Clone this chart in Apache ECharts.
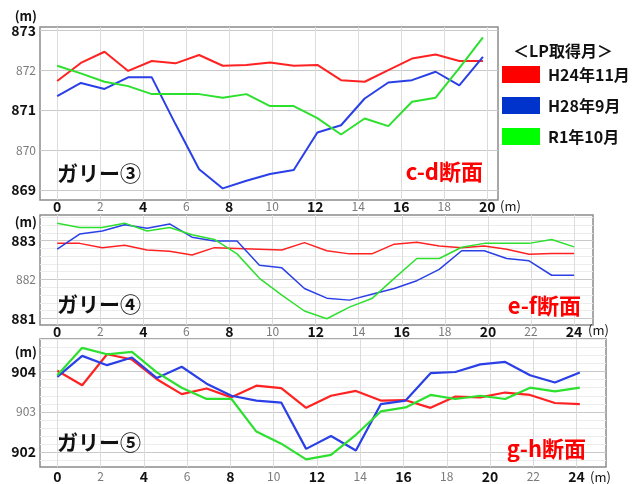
<!DOCTYPE html>
<html>
<head>
<meta charset="utf-8">
<script src="https://cdn.jsdelivr.net/npm/echarts@6/dist/echarts.min.js"></script>
<style>
  html, body { margin: 0; padding: 0; background: #fff; }
  #chart { width: 641px; height: 484px; }
</style>
</head>
<body>
<div id="chart"></div>
<script>
// Survey series names (LP acquisition month)
const seriesNames = ['H24年11月', 'H28年9月', 'R1年10月'];

// Gully ③, section c-d: station distance (m) and elevation (m)
const dist3 = [0, 1.1, 2.2, 3.3, 4.4, 5.5, 6.6, 7.7, 8.8, 9.9, 11, 12.1, 13.2, 14.3, 15.4, 16.5, 17.6, 18.7, 19.8];
const g3H24 = [871.73, 872.18, 872.46, 871.98, 872.23, 872.17, 872.38, 872.11, 872.13, 872.19, 872.11, 872.13, 871.75, 871.71, 872.0, 872.29, 872.39, 872.23, 872.23];
const g3H28 = [871.35, 871.68, 871.53, 871.82, 871.82, 870.65, 869.52, 869.04, 869.23, 869.4, 869.5, 870.44, 870.62, 871.29, 871.69, 871.75, 871.96, 871.62, 872.33];
const g3R1  = [872.11, 871.92, 871.71, 871.6, 871.4, 871.4, 871.4, 871.31, 871.4, 871.1, 871.1, 870.8, 870.39, 870.79, 870.6, 871.21, 871.31, 872.05, 872.82];

// Gully ④, section e-f
const dist4 = [0, 1.04, 2.09, 3.13, 4.17, 5.22, 6.26, 7.3, 8.35, 9.39, 10.43, 11.48, 12.52, 13.57, 14.61, 15.65, 16.7, 17.74, 18.78, 19.83, 20.87, 21.91, 22.96, 24];
const g4H24 = [882.93, 882.93, 882.82, 882.88, 882.76, 882.73, 882.63, 882.82, 882.8, 882.78, 882.76, 882.95, 882.74, 882.66, 882.66, 882.91, 882.96, 882.86, 882.82, 882.86, 882.78, 882.65, 882.67, 882.67];
const g4H28 = [882.78, 883.17, 883.25, 883.41, 883.32, 883.43, 883.09, 882.99, 882.99, 882.37, 882.3, 881.77, 881.52, 881.47, 881.62, 881.77, 881.97, 882.26, 882.74, 882.74, 882.54, 882.48, 882.11, 882.11];
const g4R1  = [883.45, 883.34, 883.34, 883.45, 883.25, 883.34, 883.15, 883.03, 882.66, 882.03, 881.6, 881.19, 880.99, 881.29, 881.51, 882.03, 882.54, 882.54, 882.83, 882.93, 882.93, 882.93, 883.03, 882.84];

// Gully ⑤, section g-h
const dist5 = [0, 1.15, 2.3, 3.45, 4.6, 5.75, 6.9, 8.05, 9.2, 10.35, 11.5, 12.65, 13.8, 14.95, 16.1, 17.25, 18.4, 19.55, 20.7, 21.85, 23, 24.15];
const g5H24 = [904.02, 903.66, 904.43, 904.3, 903.81, 903.44, 903.58, 903.36, 903.65, 903.59, 903.1, 903.4, 903.52, 903.28, 903.29, 903.1, 903.38, 903.36, 903.48, 903.42, 903.22, 903.19];
const g5H28 = [903.87, 904.39, 904.16, 904.35, 903.84, 904.12, 903.7, 903.4, 903.28, 903.23, 902.08, 902.4, 902.04, 903.19, 903.28, 903.96, 903.99, 904.18, 904.24, 903.91, 903.73, 903.98];
const g5R1  = [903.91, 904.59, 904.43, 904.49, 903.98, 903.6, 903.32, 903.32, 902.51, 902.21, 901.82, 901.93, 902.43, 903.01, 903.11, 903.42, 903.32, 903.4, 903.32, 903.6, 903.51, 903.6];

// Tick labels
const xTicks20 = [0, 2, 4, 6, 8, 10, 12, 14, 16, 18, 20];
const xTicks24 = [0, 2, 4, 6, 8, 10, 12, 14, 16, 18, 20, 22, 24];
const xBold = [0, 4, 8, 12, 16, 20, 24];
const yTicks3 = [869, 870, 871, 872, 873];
const yBold3 = [869, 871, 873];
const yTicks4 = [881, 882, 883];
const yBold4 = [881, 883];
const yTicks5 = [902, 903, 904];
const yBold5 = [902, 904];

const FONT = '"Noto Sans CJK JP", "Noto Sans", sans-serif';
const lineColors = ['#ff2222', '#2a40e6', '#2ee02e'];
const legendColors = ['#ff0000', '#0033cc', '#00ff00'];

function pair(xs, ys) { return xs.map((x, i) => [x, ys[i]]); }

// minor grid positions every 0.2 m between lo and hi
function steps(lo, hi) {
  const out = [];
  for (let v = Math.round(lo * 5); v <= Math.round(hi * 5); v++) out.push(+(v / 5).toFixed(1));
  return out;
}

function labelFmt(boldSet) {
  return function (v) {
    return boldSet.indexOf(v) >= 0 ? '{b|' + v + '}' : '{g|' + v + '}';
  };
}
const rich = {
  b: { fontSize: 14, fontWeight: 'bold', color: '#111', fontFamily: FONT },
  g: { fontSize: 12, color: '#7a7a7a', fontFamily: FONT }
};

function xAxis(idx, max, ticks, margin) {
  return {
    type: 'value', gridIndex: idx, min: -0.8, max: max,
    axisLine: { show: false },
    axisTick: { show: false, customValues: ticks },
    axisLabel: { customValues: ticks, formatter: labelFmt(xBold), rich: rich, margin: margin },
    splitLine: { show: true, lineStyle: { color: '#dcdcdc', width: 1 } }
  };
}
function yAxis(idx, min, max, labels, boldSet, gridVals, gridColors) {
  return {
    type: 'value', gridIndex: idx, min: min, max: max,
    axisLine: { show: false },
    axisTick: { show: false, customValues: gridVals },
    axisLabel: { customValues: labels, formatter: labelFmt(boldSet), rich: rich, margin: 4 },
    splitLine: { show: true, lineStyle: { color: gridColors, width: 1 } }
  };
}

function lineSeries(name, idx, xs, ys, c, w) {
  return {
    name: name, type: 'line', xAxisIndex: idx, yAxisIndex: idx,
    data: pair(xs, ys), symbol: 'none', smooth: false,
    lineStyle: { color: lineColors[c], width: w },
    itemStyle: { color: legendColors[c] },
    z: 3 + (2 - c) * 0
  };
}

const MAJ = '#c9c9c9', MIN = '#ececec';

const option = {
  animation: false,
  backgroundColor: '#ffffff',
  grid: [
    { left: 40, top: 27, width: 458, height: 173, show: true, borderColor: '#8c8c8c', borderWidth: 1.5, backgroundColor: '#fff' },
    { left: 40, top: 215, width: 553, height: 110, show: true, borderColor: '#8c8c8c', borderWidth: 1.5, backgroundColor: '#fff' },
    { left: 40, top: 339, width: 566, height: 129, show: true, borderColor: '#8c8c8c', borderWidth: 1.5, backgroundColor: '#fff' }
  ],
  xAxis: [
    xAxis(0, 20.5, xTicks20, 0),
    xAxis(1, 24.88, xTicks24, 0),
    xAxis(2, 25.36, xTicks24, 3)
  ],
  yAxis: [
    yAxis(0, 868.75, 873.08, yTicks3, yBold3, yTicks3, [MAJ]),
    yAxis(1, 880.83, 883.66, yTicks4, yBold4, steps(881, 883.6), [MAJ, MIN, MIN, MIN, MIN]),
    yAxis(2, 901.63, 904.81, yTicks5, yBold5, steps(901.8, 904.8), [MIN, MAJ, MIN, MIN, MIN])
  ],
  legend: {
    orient: 'vertical', left: 502, top: 66,
    itemWidth: 38, itemHeight: 17, itemGap: 14, padding: 0,
    selectedMode: false,
    textStyle: { fontSize: 16, fontWeight: 'bold', color: '#111', fontFamily: FONT, padding: [0, 0, 0, 3] },
    data: seriesNames.map((n, i) => ({ name: n, icon: 'rect', itemStyle: { color: legendColors[i], borderWidth: 0 } }))
  },
  series: [
    lineSeries(seriesNames[0], 0, dist3, g3H24, 0, 2),
    lineSeries(seriesNames[1], 0, dist3, g3H28, 1, 2),
    lineSeries(seriesNames[2], 0, dist3, g3R1, 2, 2),
    lineSeries(seriesNames[0], 1, dist4, g4H24, 0, 1.5),
    lineSeries(seriesNames[1], 1, dist4, g4H28, 1, 1.5),
    lineSeries(seriesNames[2], 1, dist4, g4R1, 2, 1.5),
    lineSeries(seriesNames[0], 2, dist5, g5H24, 0, 2.2),
    lineSeries(seriesNames[1], 2, dist5, g5H28, 1, 2.2),
    lineSeries(seriesNames[2], 2, dist5, g5R1, 2, 2.2)
  ],
  graphic: [
    { type: 'text', left: 513, top: 43, style: { text: '＜LP取得月＞', fontSize: 16, fontWeight: 'bold', fill: '#111', fontFamily: FONT } },
    // unit labels
    { type: 'text', x: 37, y: 16, style: { text: '(m)', fontSize: 13, fontWeight: 'bold', fill: '#111', fontFamily: FONT, align: 'right', verticalAlign: 'middle' } },
    { type: 'text', x: 37, y: 222, style: { text: '(m)', fontSize: 13, fontWeight: 'bold', fill: '#111', fontFamily: FONT, align: 'right', verticalAlign: 'middle' } },
    { type: 'text', x: 37, y: 352, style: { text: '(m)', fontSize: 13, fontWeight: 'bold', fill: '#111', fontFamily: FONT, align: 'right', verticalAlign: 'middle' } },
    { type: 'text', x: 500, y: 206, style: { text: '(m)', fontSize: 13, fill: '#111', fontFamily: FONT, verticalAlign: 'middle' } },
    { type: 'text', x: 588, y: 330, style: { text: '(m)', fontSize: 13, fill: '#111', fontFamily: FONT, verticalAlign: 'middle' } },
    { type: 'text', x: 590, y: 477, style: { text: '(m)', fontSize: 13, fill: '#111', fontFamily: FONT, verticalAlign: 'middle' } },
    // panel titles
    { type: 'text', x: 57, y: 173, z: 10, style: { text: 'ガリー③', fontSize: 21, fontWeight: 'bold', fill: '#111', fontFamily: FONT, verticalAlign: 'middle' } },
    { type: 'text', x: 57, y: 304, z: 10, style: { text: 'ガリー④', fontSize: 21, fontWeight: 'bold', fill: '#111', fontFamily: FONT, verticalAlign: 'middle' } },
    { type: 'text', x: 57, y: 442, z: 10, style: { text: 'ガリー⑤', fontSize: 21, fontWeight: 'bold', fill: '#111', fontFamily: FONT, verticalAlign: 'middle' } },
    { type: 'text', x: 483, y: 172, z: 10, style: { text: 'c-d断面', fontSize: 22, fontWeight: 'bold', fill: '#ff0000', fontFamily: FONT, align: 'right', verticalAlign: 'middle' } },
    { type: 'text', x: 581, y: 306, z: 10, style: { text: 'e-f断面', fontSize: 22, fontWeight: 'bold', fill: '#ff0000', fontFamily: FONT, align: 'right', verticalAlign: 'middle' } },
    { type: 'text', x: 586, y: 449, z: 10, style: { text: 'g-h断面', fontSize: 22, fontWeight: 'bold', fill: '#ff0000', fontFamily: FONT, align: 'right', verticalAlign: 'middle' } }
  ]
};

const chart = echarts.init(document.getElementById('chart'), null, { renderer: 'canvas' });
chart.setOption(option);
</script>
</body>
</html>
